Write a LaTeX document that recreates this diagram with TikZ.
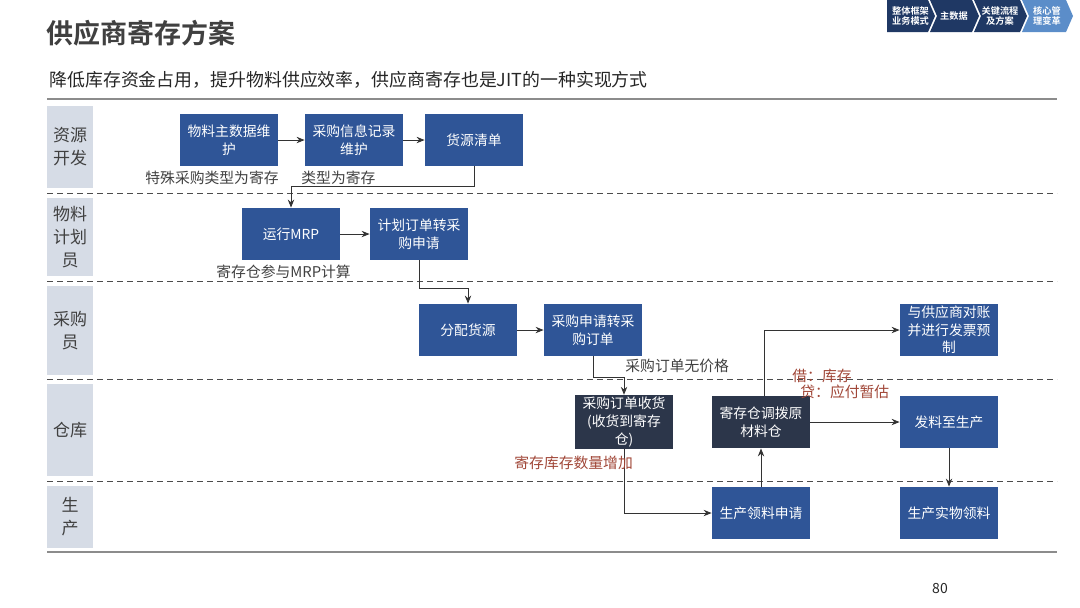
\documentclass[tikz,border=0pt]{standalone}
\usepackage{fontspec}
\setmainfont{Noto Sans CJK SC}[BoldFont={* Bold}]
\usetikzlibrary{arrows.meta}
\definecolor{clane}{RGB}{214,220,230}
\definecolor{cbox}{RGB}{47,85,151}
\definecolor{cdark}{RGB}{44,54,74}
\definecolor{cnavy}{RGB}{31,56,100}
\definecolor{cpale}{RGB}{91,141,201}
\definecolor{cbrun}{RGB}{160,70,55}
\definecolor{ctxt}{RGB}{64,64,64}

\begin{document}
\begin{tikzpicture}[x=0.5pt, y=-0.5pt, >={Stealth[length=4pt,width=3.2pt]},
  box/.style={fill=cbox, text=white, minimum width=49pt, minimum height=26pt,
    inner sep=1pt, align=center, font=\fontsize{6.9}{8.8}\selectfont},
  dbox/.style={box, fill=cdark},
  lane/.style={fill=clane, minimum width=23pt, inner sep=0pt, align=center,
    text=ctxt, font=\fontsize{8.5}{11.5}\selectfont},
  note/.style={anchor=west, inner sep=0pt, text=ctxt, font=\fontsize{7.4}{8.6}\selectfont},
  bnote/.style={note, text=cbrun},
  flow/.style={->, draw=black!80, line width=0.5pt}]
\useasboundingbox (0,0) rectangle (1080,607);
% titre
\node[anchor=west, inner sep=0pt, text=ctxt, font=\fontsize{13.5}{16}\selectfont\bfseries] (titre) at (46,33) {供应商寄存方案};
\node[anchor=west, inner sep=0pt, text=black!85, font=\fontsize{8.95}{11}\selectfont] (soustitre) at (49,80) {降低库存资金占用，提升物料供应效率，供应商寄存也是JIT的一种实现方式};
% fil d'ariane
\foreach \a/\b/\n/\c/\t in {887/928/0/cnavy/整体框架\\业务模式, 930/972/7/cnavy/主数据,
  974/1020/7/cnavy/关键流程\\及方案, 1022/1066/7/cpale/核心管\\理变革}
  {\fill[\c] (\a,0) -- (\b,0) -- (\b+7,16) -- (\b,32) -- (\a,32) -- (\a+\n,16) -- cycle;
   \node[text=white, align=center, inner sep=0pt, font=\fontsize{4.6}{5.4}\selectfont\bfseries]
     at ({(\a+\b)/2+3},16) {\t};}
\draw[black!45, line width=0.8pt] (47,99) -- (1057,99);
\draw[black!45, line width=0.8pt] (47,552) -- (1057,552);
% couloirs
\foreach \n/\y/\h/\t in {ky/147/41/资源\\开发, wj/237/39/物料\\计划\\员, cg/330.5/44.5/采购\\员,
  ck/430/46/仓库, sc/517/31/生\\产}
  {\node[lane, minimum height=\h pt] (\n) at (70,\y) {\t};}
\foreach \y in {193,281,379,481}
  {\draw[densely dashed, black!70, line width=0.4pt] (47,\y) -- (1057,\y);}
% boites
\node[box] (wl) at (229,140) {物料主数据维\\护};
\node[box] (xx) at (354,140) {采购信息记录\\维护};
\node[box] (hy) at (474,140) {货源清单};
\node[box] (mrp) at (291,234) {运行MRP};
\node[box] (jh) at (419,234) {计划订单转采\\购申请};
\node[box] (fp) at (468,330) {分配货源};
\node[box] (sq) at (593,330) {采购申请转采\\购订单};
\node[box] (dz) at (949,330) {与供应商对账\\并进行发票预\\制};
\node[dbox] (sh) at (624,422) {采购订单收货\\(收货到寄存\\仓)};
\node[dbox] (db) at (761,422) {寄存仓调拨原\\材料仓};
\node[box] (fl) at (949,422) {发料至生产};
\node[box] (ly) at (761,513) {生产领料申请};
\node[box] (sw) at (949,513) {生产实物领料};
% liaisons
\draw[flow] (wl) -- (xx);
\draw[flow] (xx) -- (hy);
\draw[flow] (hy.south) -- ++(0,20) -| (mrp.north);
\draw[flow] (mrp) -- (jh);
\draw[flow] (jh.south) -- ++(0,28) -| (fp.north);
\draw[flow] (fp) -- (sq);
\draw[flow] (sq.south) -- ++(0,21) -| (sh.north);
\draw[flow] (sh.south) |- (ly.west);
\draw[flow] (ly) -- (db);
\draw[flow] ([xshift=1.5pt]db.north) |- (dz.west);
\draw[flow] (db) -- (fl);
\draw[flow] (fl) -- (sw);
% remarques
\node[note] (n1) at (145,178) {特殊采购类型为寄存};
\node[note] (n2) at (301,178) {类型为寄存};
\node[note] (n3) at (216,272) {寄存仓参与MRP计算};
\node[note] (n4) at (625,366) {采购订单无价格};
\node[bnote] (n5) at (792,376) {借：库存};
\node[bnote] (n6) at (800,392) {贷：应付暂估};
\node[bnote] (n7) at (514,463) {寄存库存数量增加};
\node[text=black!85, font=\fontsize{7}{8}\selectfont] (page) at (940,588) {80};
\end{tikzpicture}
\end{document}
